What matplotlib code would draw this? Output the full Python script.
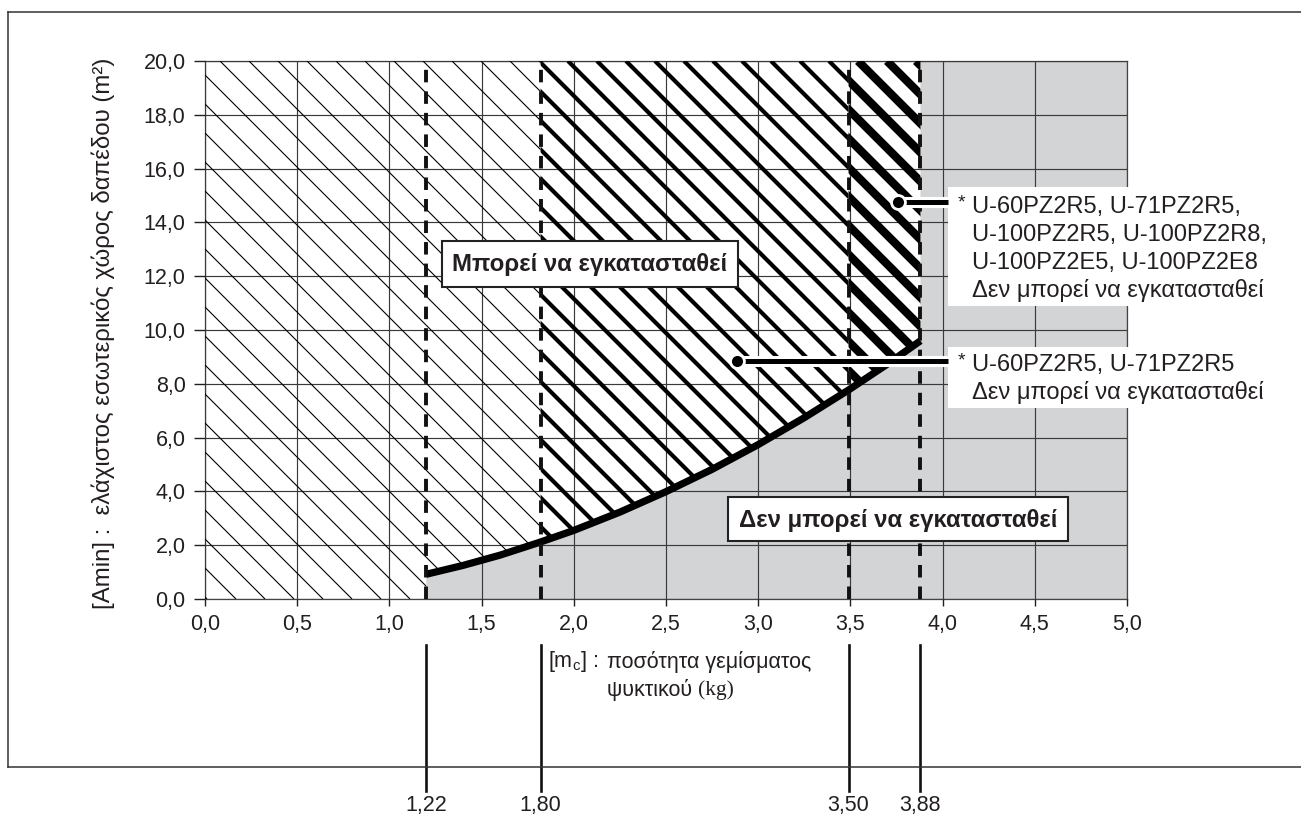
import matplotlib
matplotlib.use('Agg')
import matplotlib.pyplot as plt
import numpy as np
from matplotlib.collections import LineCollection
from matplotlib.patches import Polygon, Rectangle
from matplotlib.lines import Line2D
import matplotlib.patheffects as pe
import matplotlib.transforms as mtransforms
from matplotlib import font_manager as fm

# ---------------- data ----------------
charge_kg = [1.20, 1.40, 1.60, 1.82, 2.00, 2.25, 2.50, 2.75, 3.00, 3.25, 3.49, 3.70, 3.88]
min_area_m2 = [0.92, 1.25, 1.63, 2.12, 2.55, 3.23, 3.99, 4.82, 5.74, 6.74, 7.77, 8.73, 9.60]

limit_positions = [1.20, 1.82, 3.49, 3.88]
limit_labels = ['1,22', '1,80', '3,50', '3,88']

x_ticks = [0.0, 0.5, 1.0, 1.5, 2.0, 2.5, 3.0, 3.5, 4.0, 4.5, 5.0]
x_tick_labels = ['0,0', '0,5', '1,0', '1,5', '2,0', '2,5', '3,0', '3,5', '4,0', '4,5', '5,0']
y_ticks = [0, 2, 4, 6, 8, 10, 12, 14, 16, 18, 20]
y_tick_labels = ['0,0', '2,0', '4,0', '6,0', '8,0', '10,0', '12,0', '14,0', '16,0', '18,0', '20,0']

y_label = '[Amin] :  ελάχιστος εσωτερικός χώρος δαπέδου (m²)'
x_label_head = '[m$_{\\mathrm{c}}$] :'
x_label_lines = ['ποσότητα γεμίσματος', 'ψυκτικού']
x_label_unit = '(kg)'

zone_ok = 'Μπορεί να εγκατασταθεί'
zone_no = 'Δεν μπορεί να εγκατασταθεί'
note_upper_lines = ['U-60PZ2R5, U-71PZ2R5,', 'U-100PZ2R5, U-100PZ2R8,',
                    'U-100PZ2E5, U-100PZ2E8', 'Δεν μπορεί να εγκατασταθεί']
note_lower_lines = ['U-60PZ2R5, U-71PZ2R5', 'Δεν μπορεί να εγκατασταθεί']
note_upper_anchor = (3.76, 14.76)
note_lower_anchor = (2.885, 8.85)

# ---------------- style ----------------
plt.rcParams['font.family'] = ['Liberation Sans', 'DejaVu Sans']
plt.rcParams['mathtext.fontset'] = 'custom'
plt.rcParams['mathtext.rm'] = 'Liberation Sans'
plt.rcParams['mathtext.it'] = 'Liberation Sans:italic'
plt.rcParams['lines.scale_dashes'] = False

names = {f.name for f in fm.fontManager.ttflist}
if 'Liberation Sans Narrow' in names:
    bold_family, bold_size = ['Liberation Sans Narrow', 'DejaVu Sans'], 20.5
else:
    bold_family, bold_size = ['Liberation Sans', 'DejaVu Sans'], 17.3

TXT = '#231f20'
GREY = '#d3d4d6'
W, H = 1301, 824

fig = plt.figure(figsize=(W / 100, H / 100), dpi=100)
AX_L, AX_R, AX_T, AX_B = 205, 1127, 61, 599
ax = fig.add_axes([AX_L / W, 1 - AX_B / H, (AX_R - AX_L) / W, (AX_B - AX_T) / H])
ax.set_xlim(0, 5)
ax.set_ylim(0, 20)


def fp(x, y):
    return (x / W, 1 - y / H)


sx = (AX_R - AX_L) / 5.0
sy = (AX_B - AX_T) / 20.0

ax.set_xticks(x_ticks, x_tick_labels)
ax.set_yticks(y_ticks, y_tick_labels)
ax.tick_params(axis='x', length=5, width=1, pad=6, labelsize=15.5, colors=TXT)
ax.tick_params(axis='y', length=8, width=1, pad=6, labelsize=15.5, colors=TXT)
for s in ax.spines.values():
    s.set_color('#444')
    s.set_linewidth(0.9)
ax.grid(True, color='#3a3a3a', linewidth=0.85)
ax.set_axisbelow(False)

# ---------------- regions ----------------
cx = np.array(charge_kg)
cy = np.array(min_area_m2)
p0, p1, p2, p3 = limit_positions


def seg(a, b):
    m = (cx >= a - 1e-9) & (cx <= b + 1e-9)
    return list(zip(cx[m], cy[m]))


grey_poly = [(p0, 0)] + seg(p0, p3) + [(p3, 20), (5, 20), (5, 0)]
ax.add_patch(Polygon(grey_poly, closed=True, fc=GREY, ec='none', zorder=1))

thin_poly = [(0, 0), (p0, 0)] + seg(p0, p1) + [(p1, 20), (0, 20)]
mid_poly = seg(p1, p2) + [(p2, 20), (p1, 20)]
thick_poly = seg(p2, p3) + [(p3, 20), (p2, 20)]

# diagonal hatch lines (45 degrees on screen), spacing in pixels
spacing = 29.0
ax_w_px, ax_h_px = AX_R - AX_L, AX_B - AX_T
offsets = np.arange(2 - spacing * 2, ax_w_px + ax_h_px + spacing * 2, spacing)
hatch_segs = [[(c / sx, 0), ((c - ax_h_px) / sx, 20)] for c in offsets]

for poly, lw in [(thin_poly, 0.8), (mid_poly, 3.0), (thick_poly, 6.0)]:
    clip = Polygon(poly, closed=True, fc='none', ec='none')
    ax.add_patch(clip)
    lc = LineCollection(hatch_segs, colors='black', linewidths=lw, zorder=3,
                        capstyle='butt')
    ax.add_collection(lc)
    lc.set_clip_path(clip)

# curve
ax.plot(charge_kg, min_area_m2, color='black', lw=5.2, solid_capstyle='butt', zorder=4)

# dashed limits
ax.vlines(limit_positions, 0, 20, colors='#111', linewidth=2.8,
          linestyles=[(0, (9, 6.5))], zorder=5)

# ---------------- labels ----------------
fig.text(*fp(103, 333), y_label, rotation=90, ha='center', va='center',
         fontsize=17.3, color=TXT)
fig.text(*fp(548, 662), x_label_head, ha='left', va='center', fontsize=15.5, color=TXT)
fig.text(*fp(607, 662), x_label_lines[0], ha='left', va='center', fontsize=15.5, color=TXT)
t2 = fig.text(*fp(607, 690), x_label_lines[1] + ' ', ha='left', va='center',
              fontsize=15.5, color=TXT)
fig.canvas.draw()
bb = t2.get_window_extent()
fig.text(bb.x1 / W, 1 - 690 / H, x_label_unit, ha='left', va='center', fontsize=15.5,
         color=TXT, family=['Liberation Serif', 'DejaVu Serif'])

# bottom scale with limit values
blend = mtransforms.blended_transform_factory(ax.transData, fig.transFigure)
for p, lab in zip(limit_positions, limit_labels):
    fig.add_artist(Line2D([p, p], [1 - 645 / H, 1 - 791 / H], transform=blend,
                          color='#111', lw=1.9))
    fig.text(p, 1 - 806 / H, lab, transform=blend, ha='center', va='center',
             fontsize=15.5, color=TXT)

# outer frame
frame_kw = dict(transform=fig.transFigure, color='#333', lw=1.1)
fig.add_artist(Line2D([8 / W, 1], [1 - 12 / H, 1 - 12 / H], **frame_kw))
fig.add_artist(Line2D([8 / W, 8 / W], [1 - 12 / H, 1 - 767 / H], **frame_kw))
fig.add_artist(Line2D([8 / W, 1], [1 - 767 / H, 1 - 767 / H], **frame_kw))


# ---------------- boxed zone labels ----------------
def boxed(text, x0, y0, x1, y1):
    r = Rectangle(fp(x0, y1), (x1 - x0) / W, (y1 - y0) / H, transform=fig.transFigure,
                  fc='white', ec='#222', lw=1.5, zorder=6, clip_on=False)
    ax.add_patch(r)
    ax.text(*fp((x0 + x1) / 2, (y0 + y1) / 2 + 1), text, transform=fig.transFigure,
            ha='center', va='center', fontsize=bold_size, fontweight='bold',
            family=bold_family, color=TXT, zorder=7, clip_on=False)


boxed(zone_ok, 442, 241, 738, 287)
boxed(zone_no, 728, 497, 1068, 541)


# ---------------- notes with leader lines ----------------
def note(lines, anchor, box_y0, box_y1, first_y):
    r = Rectangle(fp(948, box_y1), (1295 - 948) / W, (box_y1 - box_y0) / H,
                  transform=fig.transFigure, fc='white', ec='none', zorder=6, clip_on=False)
    ax.add_patch(r)
    for i, t in enumerate(lines):
        ax.text(*fp(972, first_y + 28 * i), t, transform=fig.transFigure, ha='left',
                va='center', fontsize=17, color=TXT, zorder=7, clip_on=False)
    ax.text(*fp(961, first_y - 4), '*', transform=fig.transFigure, ha='center',
            va='center', fontsize=14, color=TXT, zorder=7, clip_on=False)
    xe = (948 - AX_L) / sx
    ax.plot([anchor[0], xe], [anchor[1], anchor[1]], color='black', lw=3.6,
            solid_capstyle='butt', zorder=8, clip_on=False,
            path_effects=[pe.Stroke(linewidth=8, foreground='white'), pe.Normal()])
    ax.plot([anchor[0]], [anchor[1]], 'o', ms=10, mfc='black', mec='white', mew=2,
            zorder=9, clip_on=False)


note(note_upper_lines, note_upper_anchor, 187, 306, 207)
note(note_lower_lines, note_lower_anchor, 347, 408, 365)

fig.savefig('out.png', dpi=100)
